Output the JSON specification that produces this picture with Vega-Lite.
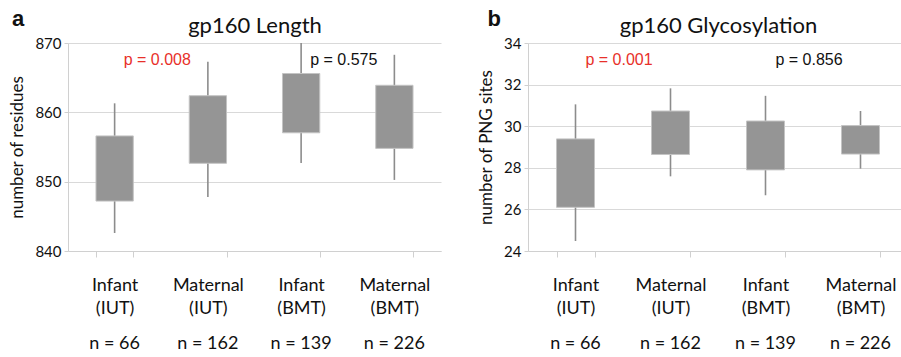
{
  "$schema": "https://vega.github.io/schema/vega-lite/v6.json",
  "background": "white",
  "padding": {"left": 8, "top": 8, "right": 0, "bottom": 0},
  "spacing": 36,
  "config": {"view": {"stroke": null}, "font": "Lato"},
  "datasets": {
    "length": [
      {"group": "Infant (IUT), n = 66", "lo": 842.6, "q1": 847.2, "q3": 856.6, "hi": 861.3},
      {"group": "Maternal (IUT), n = 162", "lo": 847.8, "q1": 852.65, "q3": 862.4, "hi": 867.3},
      {"group": "Infant (BMT), n = 139", "lo": 852.7, "q1": 857.05, "q3": 865.6, "hi": 870},
      {"group": "Maternal (BMT), n = 226", "lo": 850.25, "q1": 854.8, "q3": 863.9, "hi": 868.3}
    ],
    "lengthP": [
      {"group": "Infant (IUT), n = 66", "y": 867.6, "label": "p = 0.008", "significant": "yes"},
      {"group": "Infant (BMT), n = 139", "y": 867.6, "label": "p = 0.575", "significant": "no"}
    ],
    "glyco": [
      {"group": "Infant (IUT), n = 66", "lo": 24.48, "q1": 26.1, "q3": 29.39, "hi": 31.05},
      {"group": "Maternal (IUT), n = 162", "lo": 27.59, "q1": 28.64, "q3": 30.73, "hi": 31.82},
      {"group": "Infant (BMT), n = 139", "lo": 26.68, "q1": 27.9, "q3": 30.25, "hi": 31.46},
      {"group": "Maternal (BMT), n = 226", "lo": 27.96, "q1": 28.66, "q3": 30.03, "hi": 30.73}
    ],
    "glycoP": [
      {"group": "Infant (IUT), n = 66", "y": 33.2, "label": "p = 0.001", "significant": "yes"},
      {"group": "Infant (BMT), n = 139", "y": 33.2, "label": "p = 0.856", "significant": "no"}
    ]
  },
  "hconcat": [
    {
      "width": 373,
      "height": 208,
      "title": {"text": "a", "anchor": "start", "frame": "bounds", "font": "Liberation Sans", "fontSize": 22, "fontWeight": "bold", "color": "#111", "offset": -17, "dx": 3},
      "data": {"name": "length"},
      "resolve": {"axis": {"x": "independent"}},
      "layer": [
        {
          "mark": {"type": "rule", "color": "#8c8c8c", "strokeWidth": 1.6},
          "encoding": {
            "x": {"field": "group", "type": "nominal", "sort": null,
              "scale": {"domain": ["Infant (IUT), n = 66", "Maternal (IUT), n = 162", "Infant (BMT), n = 139", "Maternal (BMT), n = 226"], "paddingInner": 0.6, "paddingOuter": 0.3},
              "axis": {"orient": "bottom", "title": null, "labelAngle": 0, "grid": false, "tickBand": "extent", "tickSize": 6, "tickColor": "#d0d0d0", "domainColor": "#d0d0d0", "labelFontSize": 18, "labelColor": "#111", "labelLineHeight": 23, "labelPadding": 19,
                "labelExpr": "split(split(datum.label, ', ')[0], ' ')"}},
            "y": {"field": "lo", "type": "quantitative",
              "scale": {"domain": [840, 870], "nice": false, "zero": false},
              "axis": {"title": "number of residues", "titleFontSize": 17, "titleFontWeight": "normal", "titleColor": "#111", "titlePadding": 8, "values": [840, 850, 860, 870], "labelFontSize": 15, "labelColor": "#111", "labelPadding": 3, "gridColor": "#d9d9d9", "domainColor": "#d0d0d0", "tickColor": "#d0d0d0", "tickSize": 4}},
            "y2": {"field": "hi"}
          }
        },
        {
          "mark": {"type": "bar", "color": "#959595", "stroke": "#c4c4c4", "strokeWidth": 1},
          "encoding": {
            "x": {"field": "group", "type": "nominal", "sort": null,
              "axis": {"orient": "top", "title": "gp160 Length", "titleFontSize": 22, "titleFontWeight": "normal", "titleColor": "#111", "titlePadding": 6, "labels": false, "ticks": false, "domain": false, "grid": false}},
            "y": {"field": "q1", "type": "quantitative"},
            "y2": {"field": "q3"}
          }
        },
        {
          "data": {"name": "lengthP"},
          "mark": {"type": "text", "font": "Liberation Sans", "fontSize": 16, "baseline": "middle", "align": "center", "dx": -4},
          "encoding": {
            "x": {"field": "group", "type": "nominal", "sort": null, "bandPosition": 1.75,
              "axis": {"orient": "bottom", "offset": 67, "title": null, "labelAngle": 0, "grid": false, "ticks": false, "tickSize": 0, "domain": false, "labelFontSize": 18, "labelColor": "#111", "labelPadding": 16, "labelExpr": "split(datum.label, ', ')[1]"}},
            "y": {"field": "y", "type": "quantitative"},
            "text": {"field": "label"},
            "color": {"field": "significant", "type": "nominal", "scale": {"domain": ["yes", "no"], "range": ["#e8302a", "#111111"]}, "legend": null}
          }
        }
      ]
    },
    {
      "width": 380,
      "height": 208,
      "title": {"text": "b", "anchor": "start", "frame": "bounds", "font": "Liberation Sans", "fontSize": 22, "fontWeight": "bold", "color": "#111", "offset": -17, "dx": 10},
      "data": {"name": "glyco"},
      "resolve": {"axis": {"x": "independent"}},
      "layer": [
        {
          "mark": {"type": "rule", "color": "#8c8c8c", "strokeWidth": 1.6},
          "encoding": {
            "x": {"field": "group", "type": "nominal", "sort": null,
              "scale": {"domain": ["Infant (IUT), n = 66", "Maternal (IUT), n = 162", "Infant (BMT), n = 139", "Maternal (BMT), n = 226"], "paddingInner": 0.6, "paddingOuter": 0.3},
              "axis": {"orient": "bottom", "title": null, "labelAngle": 0, "grid": false, "tickBand": "extent", "tickSize": 6, "tickColor": "#d0d0d0", "domainColor": "#d0d0d0", "labelFontSize": 18, "labelColor": "#111", "labelLineHeight": 23, "labelPadding": 19,
                "labelExpr": "split(split(datum.label, ', ')[0], ' ')"}},
            "y": {"field": "lo", "type": "quantitative",
              "scale": {"domain": [24, 34], "nice": false, "zero": false},
              "axis": {"title": "number of PNG sites", "titleFontSize": 17, "titleFontWeight": "normal", "titleColor": "#111", "titlePadding": 8, "values": [24, 26, 28, 30, 32, 34], "labelFontSize": 15, "labelColor": "#111", "labelPadding": 3, "gridColor": "#d9d9d9", "domainColor": "#d0d0d0", "tickColor": "#d0d0d0", "tickSize": 4}},
            "y2": {"field": "hi"}
          }
        },
        {
          "mark": {"type": "bar", "color": "#959595", "stroke": "#c4c4c4", "strokeWidth": 1},
          "encoding": {
            "x": {"field": "group", "type": "nominal", "sort": null,
              "axis": {"orient": "top", "title": "gp160 Glycosylation", "titleFontSize": 22, "titleFontWeight": "normal", "titleColor": "#111", "titlePadding": 6, "labels": false, "ticks": false, "domain": false, "grid": false}},
            "y": {"field": "q1", "type": "quantitative"},
            "y2": {"field": "q3"}
          }
        },
        {
          "data": {"name": "glycoP"},
          "mark": {"type": "text", "font": "Liberation Sans", "fontSize": 16, "baseline": "middle", "align": "center", "dx": -4},
          "encoding": {
            "x": {"field": "group", "type": "nominal", "sort": null, "bandPosition": 1.75,
              "axis": {"orient": "bottom", "offset": 67, "title": null, "labelAngle": 0, "grid": false, "ticks": false, "tickSize": 0, "domain": false, "labelFontSize": 18, "labelColor": "#111", "labelPadding": 16, "labelExpr": "split(datum.label, ', ')[1]"}},
            "y": {"field": "y", "type": "quantitative"},
            "text": {"field": "label"},
            "color": {"field": "significant", "type": "nominal", "scale": {"domain": ["yes", "no"], "range": ["#e8302a", "#111111"]}, "legend": null}
          }
        }
      ]
    }
  ]
}
